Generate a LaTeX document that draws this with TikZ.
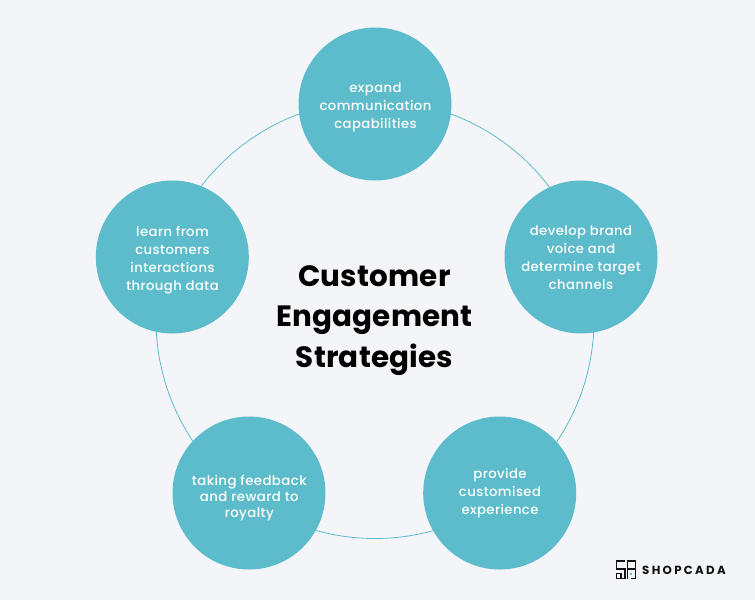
\documentclass[tikz,border=0pt]{standalone}
\usepackage{fontspec}
\setmainfont{Poppins}
\newfontfamily\titlefont[LetterSpace=0.6]{Poppins Bold}
\newfontfamily\labelfont[LetterSpace=3.2]{Poppins Medium}
\newfontfamily\logofont[LetterSpace=19.5]{Poppins Bold}
\definecolor{bgc}{HTML}{F3F5F9}
\definecolor{teal}{HTML}{5DBCCB}
\definecolor{ink}{HTML}{111111}
\tikzset{
  ring/.style={draw=teal,line width=0.8pt},
  bubble/.style={circle,fill=teal,minimum size=153pt,inner sep=0pt,align=center,text=white,font=\labelfont\fontsize{13.2}{18}\selectfont},
  tightbubble/.style={bubble,font=\labelfont\fontsize{13.3}{16.3}\selectfont},
  headline/.style={align=center,text=black,font=\titlefont\fontsize{29.4}{40.2}\selectfont},
  logomark/.style={draw=ink,line width=1.9pt,line cap=butt,line join=miter},
  logotext/.style={text=ink,anchor=west,inner sep=0pt,font=\logofont\fontsize{11.8}{12}\selectfont}
}
\begin{document}
\begin{tikzpicture}[x=1pt,y=-1pt]
\useasboundingbox[fill=bgc] (0,0) rectangle (755,600);
\coordinate (ringc) at (375,319.5);
\draw[ring] (ringc) circle[radius=219];
\node[bubble] (a) at (375,104) {};
\node[bubble] (b) at (581,257) {};
\node[bubble] (c) at (499.7,493) {};
\node[bubble] (d) at (249,493) {};
\node[bubble] (e) at (172.3,257) {};
\node[bubble,fill=none] (at) at (375.5,107) {expand\\communication\\capabilities};
\node[bubble,fill=none] (bt) at (581,258) {develop brand\\voice and\\determine target\\channels};
\node[bubble,fill=none] (ct) at (500,493) {provide\\customised\\experience};
\node[tightbubble,fill=none] (dt) at (249.3,498) {taking feedback\\and reward to\\royalty};
\node[bubble,fill=none] (et) at (172.5,260) {learn from\\customers\\interactions\\through data};
\node[headline] (title) at (374.5,320.5) {Customer\\Engagement\\Strategies};
% logo mark
\draw[logomark] (625.3,561) -- (616.5,561) -- (616.5,569.3) -- (625.3,569.3) -- (625.3,578.5) -- (615.6,578.5);
\draw[logomark] (616.5,579) -- (616.5,573.5) -- (621,573.5) -- (621,578);
\draw[logomark] (627.5,579.4) -- (627.5,561) -- (635.5,561) -- (635.5,579.4);
\draw[logomark] (627.5,569.3) -- (635.5,569.3);
\draw[logomark] (631,578.5) -- (635.5,578.5);
\fill[teal] (629.6,573) rectangle (631.8,575.2);
\node[logotext] (logo) at (642,570) {SHOPCADA};
\end{tikzpicture}
\end{document}
